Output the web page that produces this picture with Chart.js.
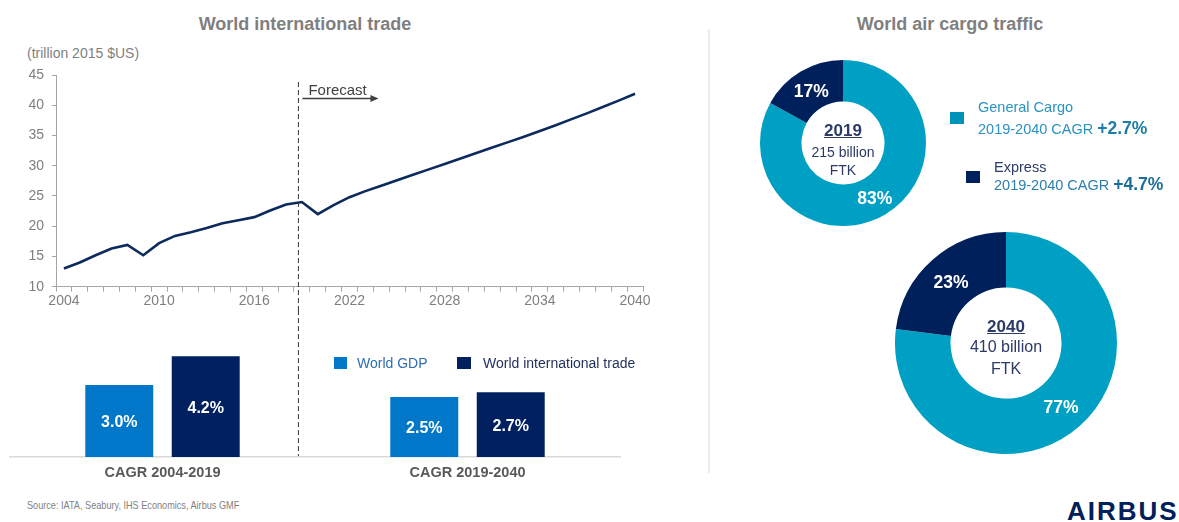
<!DOCTYPE html>
<html><head><meta charset="utf-8">
<script src="https://cdn.jsdelivr.net/npm/chart.js@4/dist/chart.umd.min.js"></script>
<style>
body{margin:0;background:#fff;}
#wrap{position:relative;width:1179px;height:522px;overflow:hidden;font-family:'Liberation Sans',Arial,sans-serif;}
.t{position:absolute;white-space:nowrap;line-height:1;}
canvas{position:absolute;}
</style></head>
<body><div id="wrap">
<div class="t" style="left:0;width:610px;top:15px;text-align:center;font-weight:bold;font-size:18px;color:#7F7F7F">World international trade</div>
<div class="t" style="left:750px;width:400px;top:15px;text-align:center;font-weight:bold;font-size:18px;color:#7F7F7F">World air cargo traffic</div>
<div class="t" style="left:27px;top:46px;font-size:14px;color:#7F7F7F">(trillion 2015 $US)</div>
<div style="position:absolute;left:708px;top:29px;width:2px;height:444px;background:#EBEBEB"></div>

<canvas id="lineC" width="680" height="310" style="left:0;top:0;width:680px;height:310px"></canvas>
<canvas id="barC" width="680" height="180" style="left:0;top:310px;width:680px;height:180px"></canvas>

<div style="position:absolute;left:334px;top:357px;width:13px;height:12px;background:#0077C8"></div>
<div class="t" style="left:357px;top:356px;font-size:14px;color:#2F6DB5">World GDP</div>
<div style="position:absolute;left:457px;top:357px;width:14px;height:12px;background:#002060"></div>
<div class="t" style="left:483px;top:356px;font-size:14px;color:#1F2D5A">World international trade</div>

<canvas id="d1" width="166" height="166" style="left:760px;top:60px;width:166px;height:166px"></canvas>
<canvas id="d2" width="222" height="222" style="left:895px;top:232px;width:222px;height:222px"></canvas>

<div class="t" style="left:783px;width:120px;top:122px;text-align:center;font-weight:bold;font-size:17px;color:#2B3A67;text-decoration:underline">2019</div>
<div class="t" style="left:783px;width:120px;top:145px;text-align:center;font-size:14px;color:#2B3A67">215 billion</div>
<div class="t" style="left:783px;width:120px;top:163px;text-align:center;font-size:14px;color:#2B3A67">FTK</div>

<div class="t" style="left:946px;width:120px;top:318px;text-align:center;font-weight:bold;font-size:17px;color:#2B3A67;text-decoration:underline">2040</div>
<div class="t" style="left:946px;width:120px;top:339px;text-align:center;font-size:16px;color:#2B3A67">410 billion</div>
<div class="t" style="left:946px;width:120px;top:361px;text-align:center;font-size:16px;color:#2B3A67">FTK</div>

<div style="position:absolute;left:950px;top:112px;width:14px;height:12px;background:#0093B8"></div>
<div class="t" style="left:978px;top:100px;font-size:14.5px;color:#2A93C0">General Cargo</div>
<div class="t" style="left:978px;top:120px;font-size:14.5px;color:#2A93C0">2019-2040 CAGR <b style="font-size:17.5px;color:#1C7EA8">+2.7%</b></div>
<div style="position:absolute;left:966px;top:171px;width:14px;height:12px;background:#00205B"></div>
<div class="t" style="left:994px;top:160px;font-size:14.5px;color:#2B3A67">Express</div>
<div class="t" style="left:994px;top:176px;font-size:14.5px;color:#2A7FAE">2019-2040 CAGR <b style="font-size:17.5px;color:#1C6E9A">+4.7%</b></div>

<div class="t" style="left:27px;top:500px;font-size:10.5px;color:#7F7F7F;transform:scaleX(0.87);transform-origin:left">Source: IATA, Seabury, IHS Economics, Airbus GMF</div>
<div class="t" style="left:1067px;top:498px;font-size:26px;font-weight:bold;color:#00205B;letter-spacing:2px">AIRBUS</div>
</div>
<script>
// ---------- data ----------
const years = ['2004','2005','2006','2007','2008','2009','2010','2011','2012','2013','2014','2015','2016','2017','2018','2019','2020','2021','2022','2023','2024','2025','2026','2027','2028','2029','2030','2031','2032','2033','2034','2035','2036','2037','2038','2039','2040'];
const tradeValues = [13.0,14.0,15.2,16.3,16.9,15.2,17.2,18.4,19.0,19.7,20.5,21.0,21.5,22.6,23.6,24.0,22.0,23.5,24.8,25.8,26.7,27.6,28.5,29.4,30.3,31.2,32.1,33.0,33.9,34.8,35.75,36.7,37.7,38.7,39.75,40.8,41.9];
const shownYearLabels = ['2004','2010','2016','2022','2028','2034','2040'];
const forecastStartYear = '2019';
const yMin = 10, yMax = 45, yStep = 5;

const cagrPeriods = ['CAGR 2004-2019','CAGR 2019-2040'];
const gdpCagr = [3.0, 2.5];
const tradeCagr = [4.2, 2.7];

const cargoSegments = ['General Cargo','Express'];
const share2019 = [83, 17];
const share2040 = [77, 23];

// ---------- styles ----------
const FONT = "'Liberation Sans', Arial, sans-serif";
Chart.defaults.font.family = FONT;
Chart.defaults.animation = false;
let dashX = null;

const dashPlugin = {
  id: 'dash',
  afterDraw(chart) {
    const xs = chart.scales.x;
    const x = xs.getPixelForValue(years.indexOf(forecastStartYear) - 0.22);
    dashX = x;
    const ctx = chart.ctx;
    ctx.save();
    ctx.strokeStyle = '#333333'; ctx.lineWidth = 1; ctx.setLineDash([5,3]);
    ctx.beginPath(); ctx.moveTo(x, 82); ctx.lineTo(x, chart.height); ctx.stroke();
    ctx.setLineDash([]);
    ctx.fillStyle = '#404040';
    ctx.font = '15px ' + FONT;
    ctx.textBaseline = 'alphabetic';
    ctx.fillText('Forecast', x + 10, 95);
    ctx.strokeStyle = '#404040'; ctx.lineWidth = 1.5;
    ctx.beginPath(); ctx.moveTo(x + 4, 98.5); ctx.lineTo(x + 78, 98.5); ctx.stroke();
    ctx.beginPath(); ctx.moveTo(x + 80, 98.5); ctx.lineTo(x + 72, 95); ctx.lineTo(x + 72, 102); ctx.closePath(); ctx.fillStyle='#404040'; ctx.fill();
    ctx.restore();
  }
};

new Chart(document.getElementById('lineC'), {
  type: 'line',
  data: { labels: years, datasets: [{ data: tradeValues, borderColor: '#0C2A5C', borderWidth: 2.6, pointRadius: 0, tension: 0, fill: false }] },
  options: {
    responsive: false, animation: false,
    layout: { padding: { top: 75, right: 37, left: 0, bottom: 0 } },
    plugins: { legend: { display: false }, tooltip: { enabled: false } },
    scales: {
      x: {
        type: 'category', offset: true,
        grid: { display: true, offset: true, drawOnChartArea: false, drawTicks: true, tickLength: 5, color: '#A6A6A6' },
        border: { display: true, color: '#A6A6A6', width: 1 },
        ticks: { autoSkip: false, maxRotation: 0, padding: 1, color: '#7F7F7F', font: { size: 14 },
          callback(v, i) { const l = years[i]; return shownYearLabels.includes(l) ? l : ''; } },
        afterFit(s) { s.height = 23.3; }
      },
      y: {
        min: yMin, max: yMax,
        grid: { display: true, drawOnChartArea: false, tickLength: 4, color: '#A6A6A6' },
        border: { display: true, color: '#A6A6A6', width: 1 },
        ticks: { stepSize: yStep, padding: 8, color: '#7F7F7F', font: { size: 14 } },
        afterFit(s) { s.width = 56; }
      }
    }
  },
  plugins: [dashPlugin]
});

const barLabelPlugin = {
  id: 'barLabels',
  beforeDraw(chart) {
    if (dashX === null) return;
    const ctx = chart.ctx;
    ctx.save();
    ctx.strokeStyle = '#333333'; ctx.lineWidth = 1; ctx.setLineDash([5,3]);
    ctx.beginPath(); ctx.moveTo(dashX, 0); ctx.lineTo(dashX, chart.chartArea.bottom); ctx.stroke();
    ctx.restore();
  },
  afterDatasetsDraw(chart) {
    const ctx = chart.ctx;
    ctx.save();
    ctx.fillStyle = '#FFFFFF';
    ctx.font = 'bold 16px ' + FONT;
    ctx.textAlign = 'center'; ctx.textBaseline = 'middle';
    chart.data.datasets.forEach((ds, di) => {
      chart.getDatasetMeta(di).data.forEach((el, i) => {
        ctx.fillText(ds.data[i].toFixed(1) + '%', el.x, (el.y + el.base) / 2 + 2);
      });
    });
    ctx.restore();
  }
};

new Chart(document.getElementById('barC'), {
  type: 'bar',
  data: { labels: cagrPeriods, datasets: [
    { label: 'World GDP', data: gdpCagr, backgroundColor: '#0077C8', categoryPercentage: 0.567, barPercentage: 0.786 },
    { label: 'World international trade', data: tradeCagr, backgroundColor: '#002060', categoryPercentage: 0.567, barPercentage: 0.786 }
  ]},
  options: {
    responsive: false, animation: false,
    layout: { padding: { top: 27, right: 60, left: 10, bottom: 0 } },
    plugins: { legend: { display: false }, tooltip: { enabled: false } },
    scales: {
      x: {
        grid: { display: false, drawTicks: false },
        border: { display: true, color: '#D9D9D9', width: 1.5 },
        ticks: { padding: 7, color: '#595959', font: { size: 14.5, weight: 'bold' } },
        afterFit(s) { s.height = 33; }
      },
      y: { display: false, min: 0, max: 5 }
    }
  },
  plugins: [barLabelPlugin]
});

const donutLabelPlugin = {
  id: 'donutLabels',
  afterDatasetsDraw(chart) {
    const ctx = chart.ctx;
    ctx.save();
    ctx.fillStyle = '#FFFFFF';
    ctx.font = 'bold 17.5px ' + FONT;
    ctx.textAlign = 'center'; ctx.textBaseline = 'middle';
    const ds = chart.data.datasets[0];
    chart.getDatasetMeta(0).data.forEach((arc, i) => {
      const p = arc.tooltipPosition();
      ctx.fillText(ds.data[i] + '%', p.x, p.y + 3);
    });
    ctx.restore();
  }
};

function donut(id, shares) {
  new Chart(document.getElementById(id), {
    type: 'doughnut',
    data: { labels: cargoSegments, datasets: [{ data: shares, backgroundColor: ['#00A0C4', '#00205B'], borderWidth: 0 }] },
    options: {
      responsive: false, animation: false, cutout: '50%',
      layout: { padding: 0 },
      plugins: { legend: { display: false }, tooltip: { enabled: false } }
    },
    plugins: [donutLabelPlugin]
  });
}
donut('d1', share2019);
donut('d2', share2040);
</script>
</body></html>
